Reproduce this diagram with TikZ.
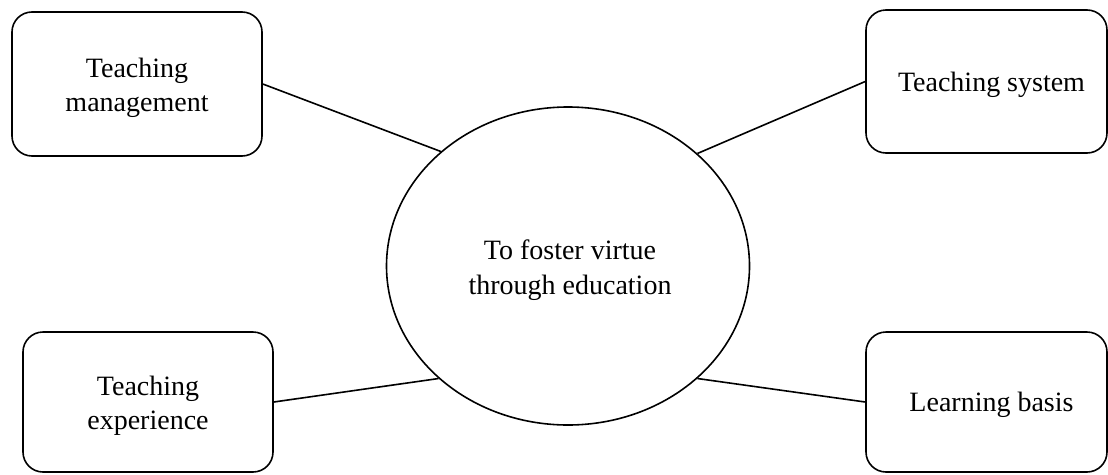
\documentclass[tikz,border=0pt]{standalone}
\usepackage{fontspec}
\setmainfont{Liberation Serif}
\usetikzlibrary{shapes.geometric}
\tikzset{
  box/.style={draw, rectangle, rounded corners=20pt, line width=1.6pt, inner sep=0pt},
  hub/.style={draw, ellipse, line width=1.6pt, inner sep=0pt,
    minimum width=363pt, minimum height=318pt},
  txt/.style={inner sep=0pt, align=center, font=\fontsize{28}{34}\selectfont},
  hubtxt/.style={inner sep=0pt, align=center, font=\fontsize{28}{35}\selectfont},
  link/.style={line width=1.6pt}
}
\begin{document}
\begin{tikzpicture}[x=1pt,y=-1pt]
\useasboundingbox (0,0) rectangle (1108,474);
\node[box, minimum width=250pt, minimum height=144pt] (tm) at (137,84) {};
\node[box, minimum width=241pt, minimum height=143pt] (ts) at (986.5,81.5) {};
\node[box, minimum width=250pt, minimum height=140pt] (te) at (148,402) {};
\node[box, minimum width=241pt, minimum height=140pt] (lb) at (986.5,402) {};
\node[hub] (c) at (568,266) {};
\node[txt] (tmt) at ([yshift=-4pt]tm.center) {Teaching\\management};
\node[txt] (tst) at ([xshift=5pt,yshift=-3pt]ts.center) {Teaching system};
\node[txt] (tet) at ([yshift=-4pt]te.center) {Teaching\\experience};
\node[txt] (lbt) at ([xshift=5pt,yshift=-3pt]lb.center) {Learning basis};
\node[hubtxt] (ct) at ([xshift=2pt,yshift=-4pt]c.center) {To foster virtue\\through education};
\draw[link] (tm.east) -- (c.138);
\draw[link] (ts.west) -- (c.41);
\draw[link] (te.east) -- (c.221);
\draw[link] (lb.west) -- (c.319);
\end{tikzpicture}
\end{document}
